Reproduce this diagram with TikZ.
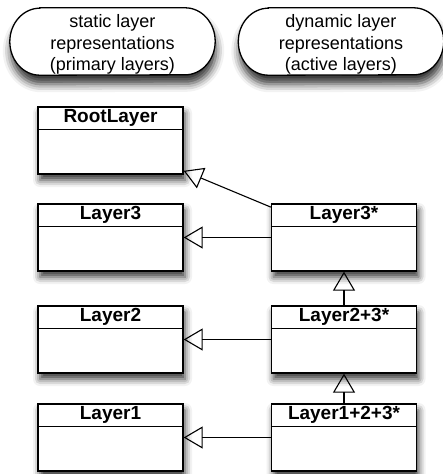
\documentclass[tikz,border=0pt]{standalone}
\usepackage{fontspec}
\setmainfont{Liberation Sans}
\usetikzlibrary{arrows.meta,shadows.blur,positioning}
\tikzset{
  classbox/.style={draw, line width=1.3pt, fill=white, minimum width=145pt, minimum height=67pt, inner sep=0pt,
    blur shadow={shadow xshift=2pt, shadow yshift=-6pt, shadow blur radius=7pt, shadow opacity=80}},
  classtitle/.style={font=\fontsize{19}{19}\selectfont\bfseries, minimum height=23pt, inner sep=0pt, anchor=north},
  pilltext/.style={font=\fontsize{18}{21.5}\selectfont, align=center, minimum width=205pt, minimum height=67pt, inner sep=0pt},
  pillshape/.style={draw, line width=1.3pt, fill=white,
    blur shadow={shadow xshift=1pt, shadow yshift=-9pt, shadow blur radius=8pt, shadow opacity=80}},
  inherit/.style={line width=1.1pt, -{Triangle[open, length=19pt, width=22pt]}},
}
\newcommand{\umlclass}[3]{%
  \node[classbox] (#1) at (#2) {};
  \node[classtitle] (#1T) at (#1.north) {#3};
  \draw[line width=1.3pt] (#1.west |- #1T.south) -- (#1.east |- #1T.south);
}
\newcommand{\pill}[3]{%
  \node[pilltext] (#1) at (#2) {};
  \path[pillshape] ([xshift=30pt]#1.north west) -- ([xshift=-30pt]#1.north east)
    arc[start angle=90, end angle=-90, x radius=30pt, y radius=33.5pt]
    -- ([xshift=30pt]#1.south west)
    arc[start angle=270, end angle=90, x radius=30pt, y radius=33.5pt] -- cycle;
  \node[pilltext] (#1L) at ([yshift=-3pt]#1.center) {#3};
}
\begin{document}
\begin{tikzpicture}[x=1pt, y=-1pt]
\useasboundingbox (0,0) rectangle (442,474);
\pill{ps}{112.5,41.5}{static layer\\representations\\(primary layers)}
\pill{pd}{341,41.5}{dynamic layer\\representations\\(active layers)}
\umlclass{root}{110.5,140.5}{RootLayer}
\umlclass{l3}{110.5,237.5}{Layer3}
\umlclass{l2}{110.5,339.5}{Layer2}
\umlclass{l1}{110.5,437.5}{Layer1}
\umlclass{a3}{344,237.5}{Layer3*}
\umlclass{a23}{344,339.5}{Layer2+3*}
\umlclass{a123}{344,437.5}{Layer1+2+3*}
\draw[inherit] (a3) -- (root);
\draw[inherit] (a3) -- (l3);
\draw[inherit] (a23) -- (l2);
\draw[inherit] (a123) -- (l1);
\draw[inherit] (a23) -- (a3);
\draw[inherit] (a123) -- (a23);
\end{tikzpicture}
\end{document}
